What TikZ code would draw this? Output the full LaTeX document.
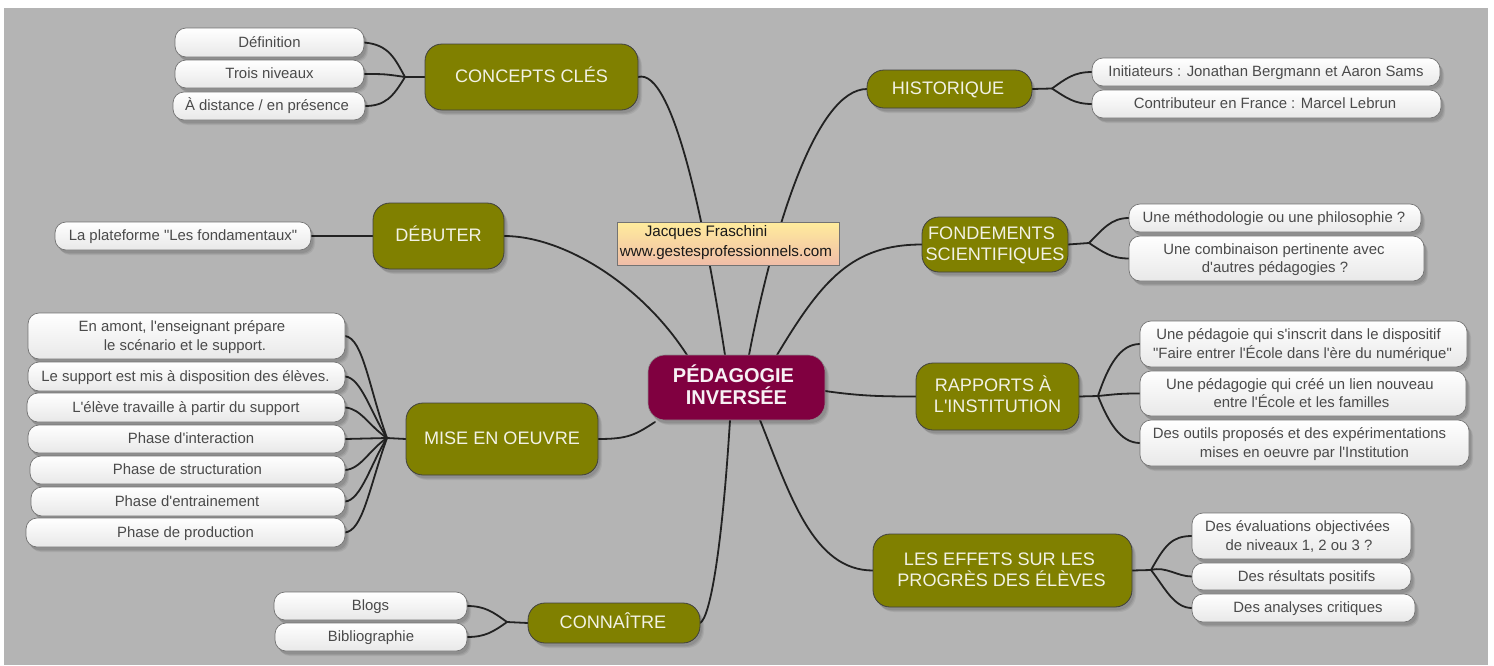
\documentclass[tikz,border=0pt]{standalone}
\usepackage{fontspec}
\setmainfont{Liberation Sans}
\newfontfamily\plainsans{Liberation Sans}
\usetikzlibrary{shadows,calc}
\pgfdeclarelayer{bgl}\pgfdeclarelayer{edgel}
\pgfsetlayers{bgl,edgel,main}
\definecolor{bggray}{HTML}{B4B4B4}
\definecolor{olivebox}{HTML}{808000}
\definecolor{rootbox}{HTML}{800040}
\definecolor{linedark}{HTML}{222222}
\definecolor{leaftext}{HTML}{4A4A4A}
\definecolor{notetop}{HTML}{FFEC9C}
\definecolor{notebot}{HTML}{F0BDA8}
\tikzset{
  x=1pt,y=-1pt,
  softshadow/.style={
    drop shadow={shadow xshift=2pt,shadow yshift=-3pt,fill=black,opacity=.08},
    drop shadow={shadow xshift=3pt,shadow yshift=-4pt,fill=black,opacity=.08},
    drop shadow={shadow xshift=4pt,shadow yshift=-5pt,fill=black,opacity=.06}},
  base/.style={rectangle,inner sep=0pt,outer sep=0pt,align=center},
  leaf/.style={base,text depth=1pt,rounded corners=11pt,draw=black!55,line width=.7pt,top color=white,bottom color=black!9,
    softshadow,text=leaftext,font=\plainsans\fontsize{14.9}{18.3}\selectfont},
  topic/.style={base,text depth=1pt,rounded corners=17pt,draw=black!75,line width=.8pt,fill=olivebox,
    softshadow,text=white!90!olivebox,font=\plainsans\fontsize{18.1}{21}\selectfont},
  roottopic/.style={base,text depth=2pt,rounded corners=17pt,draw=black!45,line width=.6pt,fill=rootbox,
    softshadow,text=white!94!rootbox,font=\plainsans\bfseries\fontsize{20}{22}\selectfont},
  notebox/.style={base,text depth=6pt,draw=black!55,line width=.7pt,top color=notetop,bottom color=notebot,
    text=black!90,font=\plainsans\fontsize{15.2}{20}\selectfont},
  linkline/.style={draw=linedark,line width=1.8pt,line cap=round},
}
\newcommand{\Nd}[7]{\node[#1,minimum width={(#5)-(#3)},minimum height={(#6)-(#4)}] (#2) at ({((#3)+(#5))/2},{((#4)+(#6))/2}) {#7};}
\newcommand{\tr}[1]{\hspace*{#1pt}}
\begin{document}
\begin{tikzpicture}
\useasboundingbox (0,0) rectangle (1494,665);
\begin{pgfonlayer}{bgl}
\fill[white] (0,0) rectangle (1494,665);
\fill[bggray] (4,8) rectangle (1488,665);
\end{pgfonlayer}

% root and note
\Nd{roottopic}{root}{648}{355}{825}{420}{P\smash{É}DAGOGIE\tr{6}\\INVERSÉE}
\Nd{notebox}{note}{617}{222}{839}{265}{Jacques Fraschini\tr{44}\\www.gestesprofessionnels.com\tr{4}}

% topics
\Nd{topic}{concepts}{425}{44}{638}{110}{CONCEPTS CL\smash{É}S}
\Nd{topic}{debuter}{373}{203}{504}{269}{D\smash{É}BUTER}
\Nd{topic}{mise}{406}{403}{598}{475}{MISE EN OEUVRE}
\Nd{topic}{connaitre}{528}{603}{700}{643}{CONNA\smash{Î}TRE\tr{2}}
\Nd{topic}{historique}{867}{70}{1032}{108}{HISTORIQUE\tr{3}}
\Nd{topic}{fond}{922}{217}{1068}{272}{FONDEMENTS\tr{7}\\SCIENTIFIQUES}
\Nd{topic}{rapports}{916}{363}{1079}{430}{RAPPORTS \smash{À}\tr{9}\\L'INSTITUTION}
\Nd{topic}{effets}{873}{534}{1132}{607}{LES EFFETS SUR LES\tr{6}\\PROGRÈS DES ÉLÈVES\tr{2}}

% leaves
\Nd{leaf}{l1}{175}{28}{364}{57}{D\smash{é}finition}
\Nd{leaf}{l2}{175}{60}{364}{88}{Trois niveaux}
\Nd{leaf}{l3}{173}{92}{365}{120}{\smash{À} distance / en présence\tr{4}}
\Nd{leaf}{d1}{55}{222}{311}{250}{La plateforme "Les fondamentaux"}
\Nd{leaf}{m1}{28}{313}{345}{359}{En amont, l'enseignant prépare\tr{9}\\le scénario et le support.\tr{3}}
\Nd{leaf}{m2}{28}{362}{345}{391}{Le support est mis à disposition des élèves.\tr{2}}
\Nd{leaf}{m3}{27}{393}{345}{422}{L'élève travaille à partir du support}
\Nd{leaf}{m4}{28}{425}{345}{453}{\tr{9}Phase d'interaction}
\Nd{leaf}{m5}{30}{456}{345}{484}{Phase de structuration}
\Nd{leaf}{m6}{31}{487}{345}{516}{Phase d'entrainement\tr{2}}
\Nd{leaf}{m7}{26}{518}{345}{547}{Phase de production}
\Nd{leaf}{c1}{274}{592}{467}{620}{Blogs}
\Nd{leaf}{c2}{275}{623}{467}{651}{Bibliographie}
\Nd{leaf}{h1}{1092}{58}{1440}{86}{Initiateurs : Jonathan Bergmann et Aaron Sams}
\Nd{leaf}{h2}{1092}{90}{1441}{118}{Contributeur en France : Marcel Lebrun\tr{3}}
\Nd{leaf}{f1}{1129}{204}{1421}{232}{Une méthodologie ou une philosophie ?\tr{2}}
\Nd{leaf}{f2}{1129}{236}{1424}{281}{Une combinaison pertinente avec\tr{5}\\d'autres pédagogies ?\tr{3}}
\Nd{leaf}{r1}{1140}{321}{1467}{367}{Une pédagoie qui s'inscrit dans le dispositif\tr{10}\\"Faire entrer l'École dans l'ère du numérique"\tr{2}}
\Nd{leaf}{r2}{1140}{371}{1466}{416}{Une pédagogie qui créé un lien nouveau\tr{6}\\entre l'École et les familles\tr{3}}
\Nd{leaf}{r3}{1140}{420}{1469}{466}{Des outils proposés et des expérimentations\tr{10}\\mises en oeuvre par l'Institution}
\Nd{leaf}{e1}{1192}{513}{1411}{559}{Des évaluations objectivées\tr{8}\\de niveaux 1, 2 ou 3 ?\tr{5}}
\Nd{leaf}{e2}{1192}{563}{1411}{590}{\tr{10}Des résultats positifs}
\Nd{leaf}{e3}{1192}{594}{1415}{622}{\tr{9}Des analyses critiques}

% junctions
\coordinate (jc) at (405,77);
\coordinate (jm) at (387,438);
\coordinate (jk) at (507,622);
\coordinate (jh) at (1052,88.5);
\coordinate (jf) at (1089,243);
\coordinate (jr) at (1098,396);
\coordinate (je) at (1151,570);

\begin{pgfonlayer}{edgel}
\begin{scope}[linkline]
% main branches
\draw ([xshift=39pt]root.north west) .. controls +(-45,-70) and +(60,0) .. (debuter.east);
\draw ([xshift=77pt]root.north west) .. controls +(-20,-130) and +(35,-10) .. (concepts.east);
\draw ([xshift=101pt]root.north west) .. controls +(25,-130) and +(-50,0) .. (historique.west);
\draw ([xshift=129pt]root.north west) .. controls +(45,-75) and +(-70,0) .. (fond.west);
\draw (root.east) ++(0,3.5) .. controls +(35,5) and +(-35,0) .. (rapports.west);
\draw ([xshift=112pt]root.south west) .. controls +(30,75) and +(-60,0) .. (effets.west);
\draw ([xshift=82pt]root.south west) .. controls +(-8,130) and +(10,-5) .. (connaitre.east);
\draw ([xshift=7pt,yshift=-2pt]root.south west) .. controls +(-20,13) and +(30,0) .. (mise.east);
% parent stems
\draw (concepts.west) -- (jc);
\draw (debuter.west) -- (d1.east);
\draw (mise.west) -- (jm);
\draw (connaitre.west) -- (jk);
\draw (historique.east) -- (jh);
\draw (fond.east) -- (jf);
\draw (rapports.east) -- (jr);
\draw (effets.east) -- (je);
% concepts
\draw (l1.east) .. controls +(25,2) and +(-10,-18) .. (jc);
\draw (l2.east) .. controls +(20,0) and +(-20,-3) .. (jc);
\draw (l3.east) .. controls +(20,0) and +(-12,20) .. (jc);
% mise en oeuvre
\draw (m1.east) .. controls +(18,2) and +(-18,-50) .. (jm);
\draw (m2.east) .. controls +(16,1) and +(-16,-25) .. (jm);
\draw (m3.east) .. controls +(16,1) and +(-18,-12) .. (jm);
\draw (m4.east) -- (jm);
\draw (m5.east) .. controls +(16,-1) and +(-18,12) .. (jm);
\draw (m6.east) .. controls +(16,-1) and +(-16,25) .. (jm);
\draw (m7.east) .. controls +(18,-2) and +(-18,50) .. (jm);
% connaitre
\draw (c1.east) .. controls +(18,0) and +(-14,-10) .. (jk);
\draw (c2.east) .. controls +(18,0) and +(-14,10) .. (jk);
% historique
\draw (h1.west) .. controls +(-18,0) and +(14,-10) .. (jh);
\draw (h2.west) .. controls +(-18,0) and +(14,9) .. (jh);
% fondements
\draw (f1.west) .. controls +(-18,0) and +(14,-14) .. (jf);
\draw (f2.west) .. controls +(-18,0) and +(14,9) .. (jf);
% rapports
\draw (r1.west) .. controls +(-20,0) and +(10,-30) .. (jr);
\draw (r2.west) .. controls +(-20,0) and +(20,-2) .. (jr);
\draw (r3.west) .. controls +(-20,0) and +(10,25) .. (jr);
% effets
\draw (e1.west) .. controls +(-20,0) and +(14,-25) .. (je);
\draw (e2.west) .. controls +(-15,0) and +(15,-4) .. (je);
\draw (e3.west) .. controls +(-18,0) and +(14,18) .. (je);
\end{scope}
\end{pgfonlayer}
\end{tikzpicture}
\end{document}
